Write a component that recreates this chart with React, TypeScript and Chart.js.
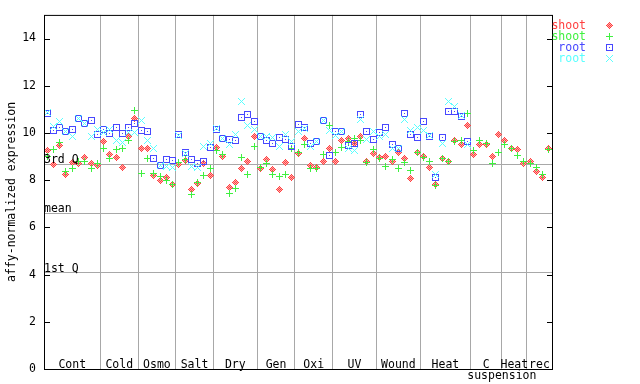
import React, { useEffect, useRef } from "react";
import { Chart, registerables } from "chart.js";

Chart.register(...registerables);

// ---- data ----
const groupLabels: string[][] = [
  ["Cont"], ["Cold"], ["Osmo"], ["Salt"], ["Dry"], ["Gen"], ["Oxi"], ["UV"],
  ["Wound"], ["Heat"], ["C", "suspension"], ["Heat"], ["rec"],
];
const groupSizes = [9, 6, 6, 6, 7, 6, 6, 7, 7, 8, 5, 4, 4];

const seriesNames = ["shoot", "shoot", "root", "root"];

const shootRed = [
  9.24, 8.65, 9.45, 8.22, 8.73, 8.70, 8.94, 8.69, 8.60,
  9.63, 9.07, 8.95, 8.53, 9.83, 10.63,
  9.33, 9.33, 8.20, 7.97, 8.11, 7.80,
  8.65, 8.85, 7.60, 7.87, 8.69, 8.18,
  9.40, 9.00, 7.68, 7.88, 8.49, 8.81, 9.83,
  8.50, 8.87, 8.44, 7.59, 8.73, 8.12,
  9.14, 9.78, 8.62, 8.55, 8.81, 9.32,
  8.77, 9.66, 9.78, 9.55, 9.87, 8.81, 9.11,
  8.98, 9.02, 8.77, 9.19, 8.91, 8.05, 9.19,
  9.02, 8.53, 7.82, 8.91, 8.77, 9.70, 9.49, 10.33,
  9.10, 9.53, 9.49, 9.02, 9.95,
  9.66, 9.32, 9.28, 8.69,
  8.81, 8.35, 8.10, 9.36,
];

const shootGreen = [
  9.00, 9.30, 9.61, 8.36, 8.48, 8.77, 8.81, 8.48, 8.72,
  9.32, 8.90, 9.29, 9.36, 9.66, 10.94,
  8.27, 8.91, 8.29, 8.17, 7.97, 7.80,
  8.73, 8.86, 7.38, 7.89, 8.18, 8.48,
  9.27, 9.08, 7.42, 7.63, 8.95, 8.22, 9.44,
  8.52, 8.70, 8.26, 8.14, 8.25, 9.32,
  9.15, 9.53, 8.48, 8.50, 9.07, 10.30,
  9.15, 9.40, 9.62, 9.78, 9.70, 8.73, 9.28,
  8.92, 8.56, 8.86, 8.48, 8.73, 8.39, 9.15,
  8.94, 8.81, 7.78, 8.90, 8.81, 9.62, 9.66, 10.84,
  9.24, 9.66, 9.57, 8.69, 9.15,
  9.49, 9.32, 9.03, 8.81,
  8.69, 8.52, 8.25, 9.28,
];

const rootBlue = [
  10.82, 10.12, 10.25, 10.05, 10.16, 10.61, 10.40, 10.54, 9.92,
  10.16, 9.96, 10.21, 9.96, 10.25, 10.42,
  10.12, 10.06, 8.90, 8.64, 8.86, 8.82,
  9.95, 9.18, 8.87, 8.70, 8.77, 9.40,
  10.15, 9.78, 9.74, 9.66, 10.67, 10.76, 10.50,
  9.87, 9.66, 9.55, 9.82, 9.74, 9.44,
  10.37, 10.24, 9.57, 9.65, 10.54, 9.03,
  10.04, 10.04, 9.47, 9.57, 10.80, 10.08, 9.74,
  10.00, 10.21, 9.53, 9.32, 10.84, 9.95, 9.79,
  10.50, 9.83, 8.10, 9.79, 10.92, 10.92, 10.70, 9.62,
];

const rootCyan = [
  10.88, 10.27, 10.48, 10.05, 9.87, 10.63, 10.41, 9.87, 10.14,
  10.00, 10.16, 9.70, 9.60, 10.02, 10.02,
  10.52, 9.70, 9.34, 8.60, 8.56, 8.52,
  9.88, 9.13, 8.58, 8.55, 9.42, 9.57,
  10.18, 9.78, 9.53, 9.95, 11.35, 10.30, 10.15,
  9.87, 9.84, 9.79, 9.44, 9.93, 9.62,
  10.04, 10.20, 9.43, 9.64, 10.52, 10.12,
  9.91, 10.04, 9.36, 9.25, 10.55, 9.74, 10.08,
  9.87, 9.95, 9.36, 9.32, 10.58, 10.12, 10.25,
  10.12, 9.91, 8.24, 9.57, 11.34, 11.13, 10.73, 9.49,
];

const statValues = [8.69, 6.62, 4.09];
const statLabels = ["3rd Q", "mean", "1st Q"];
const yMin = 0;
const yMax = 15;
const yStep = 2;
const yTitle = "affy-normalized expression";

// ---- styling ----
const FONT = "'DejaVu Sans Mono', monospace";
const FONT_SIZE = 11.5;
const GRID = "#a8a8a8";
const colors = ["rgb(255,64,64)", "rgb(64,240,64)", "rgb(72,72,255)", "rgb(90,255,255)"];
const lightColors = ["rgb(255,170,170)", "", "", ""];

const patterns: string[][] = [
  ["...#...", "..#o#..", ".#o#o#.", "#o#o#o#", ".#o#o#.", "..#o#..", "...#..."],
  ["...#...", "...#...", "...#...", "#######", "...#...", "...#...", "...#..."],
  ["#######", "#.....#", "#.....#", "#..#..#", "#.....#", "#.....#", "#######"],
  ["#.....#", ".#...#.", "..#.#..", "...#...", "..#.#..", ".#...#.", "#.....#"],
];

function makeMarker(pattern: string[], color: string, light: string): HTMLCanvasElement {
  const c = document.createElement("canvas");
  c.width = pattern[0].length;
  c.height = pattern.length;
  const ctx = c.getContext("2d")!;
  pattern.forEach((row, y) => {
    for (let x = 0; x < row.length; x++) {
      if (row[x] === "#") {
        ctx.fillStyle = color;
        ctx.fillRect(x, y, 1, 1);
      } else if (row[x] === "o" && light) {
        ctx.fillStyle = light;
        ctx.fillRect(x, y, 1, 1);
      }
    }
  });
  return c;
}

export default function App() {
  const ref = useRef<HTMLCanvasElement | null>(null);

  useEffect(() => {
    if (!ref.current) return;
    const markers = patterns.map((p, k) => makeMarker(p, colors[k], lightColors[k]));
    const total = groupSizes.reduce((a, b) => a + b, 0);
    const bounds: number[] = [0];
    groupSizes.forEach((s) => bounds.push(bounds[bounds.length - 1] + s));
    const separators = bounds.slice(1, -1);
    const toPoints = (vals: number[]) => vals.map((v, i) => ({ x: i + 0.5, y: v }));
    const allSeries = [shootRed, shootGreen, rootBlue, rootCyan];

    const font = `${FONT_SIZE}px ${FONT}`;

    const decor = {
      id: "decor",
      beforeDatasetsDraw(chart: any) {
        const { ctx, chartArea: a, scales } = chart;
        const y = scales.y;
        ctx.save();
        ctx.strokeStyle = GRID;
        ctx.lineWidth = 1;
        statValues.forEach((v) => {
          const py = Math.round(y.getPixelForValue(v)) + 0.5;
          ctx.beginPath();
          ctx.moveTo(a.left, py);
          ctx.lineTo(a.right, py);
          ctx.stroke();
        });
        ctx.restore();
        ctx.imageSmoothingEnabled = false;
      },
      afterDatasetsDraw(chart: any) {
        const { ctx, chartArea: a, scales } = chart;
        const y = scales.y;
        const x = scales.x;
        ctx.save();
        ctx.imageSmoothingEnabled = false;
        ctx.strokeStyle = "#000";
        ctx.lineWidth = 1;
        ctx.strokeRect(a.left + 0.5, a.top + 0.5, a.right - a.left, a.bottom - a.top);
        for (let v = yMin; v <= yMax; v += yStep) {
          const py = Math.round(y.getPixelForValue(v)) + 0.5;
          ctx.beginPath();
          ctx.moveTo(a.left, py);
          ctx.lineTo(a.left + 6, py);
          ctx.moveTo(a.right - 5, py);
          ctx.lineTo(a.right + 1, py);
          ctx.stroke();
        }
        // statistic labels
        ctx.fillStyle = "#000";
        ctx.font = font;
        ctx.textAlign = "left";
        ctx.textBaseline = "alphabetic";
        statValues.forEach((v, k) => {
          const py = y.getPixelForValue(v);
          ctx.fillText(statLabels[k], a.left, py - 0.5);
        });
        // group labels
        ctx.textAlign = "center";
        groupLabels.forEach((lines, g) => {
          const cx = x.getPixelForValue((bounds[g] + bounds[g + 1]) / 2);
          lines.forEach((t, li) => {
            const lx = li === 0 ? cx : x.getPixelForValue(bounds[g + 1]);
            ctx.fillText(t, lx, a.bottom - 1 + li * 11);
          });
        });
        // legend
        ctx.textAlign = "right";
        seriesNames.forEach((n, k) => {
          const ly = a.top + 14 + k * 11;
          ctx.fillStyle = colors[k];
          ctx.fillText(n, a.right + 34, ly);
          const m = markers[k];
          ctx.drawImage(m, a.right + 54, ly - 7);
        });
        ctx.restore();
      },
    };

    const chart = new Chart(ref.current, {
      type: "scatter",
      data: {
        datasets: allSeries.map((vals, k) => ({
          label: seriesNames[k],
          data: toPoints(vals),
          pointStyle: markers[k] as any,
          pointRadius: 4,
          showLine: false,
          order: 3 - k,
        })),
      },
      options: {
        animation: false,
        responsive: false,
        events: [],
        layout: { padding: { top: 13, right: 88, bottom: 15, left: 0 } },
        plugins: { legend: { display: false }, tooltip: { enabled: false } },
        scales: {
          x: {
            type: "linear",
            min: 0,
            max: total,
            afterBuildTicks: (s: any) => {
              s.ticks = separators.map((v) => ({ value: v }));
            },
            afterFit: (s: any) => {
              s.height = 0;
            },
            ticks: { display: false },
            grid: { color: GRID, lineWidth: 1, drawTicks: false },
            border: { display: false },
          },
          y: {
            type: "linear",
            min: yMin,
            max: yMax,
            afterFit: (s: any) => {
              s.width = 44;
            },
            ticks: {
              stepSize: yStep,
              includeBounds: false,
              padding: 8,
              color: "#000",
              font: { family: FONT, size: FONT_SIZE },
            },
            grid: { display: false, drawTicks: false },
            border: { display: false },
            title: {
              display: true,
              text: yTitle,
              color: "#000",
              font: { family: FONT, size: FONT_SIZE },
              padding: { top: 5, bottom: 0 },
            },
          },
        },
      },
      plugins: [decor],
    });
    return () => chart.destroy();
  }, []);

  return (
    <div style={{ position: "fixed", left: 0, top: 0, width: 640, height: 384, background: "#fff" }}>
      <canvas ref={ref} width={640} height={384} style={{ display: "block" }} />
    </div>
  );
}
